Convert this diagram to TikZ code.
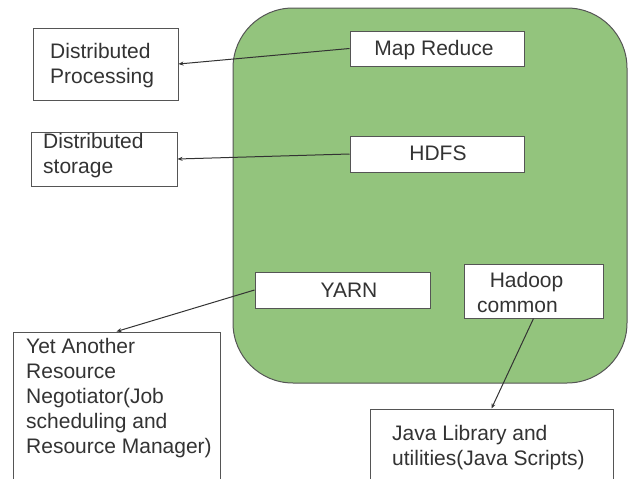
\documentclass[tikz,border=0pt]{standalone}
\usepackage{fontspec}
\setmainfont{Liberation Sans}
\usetikzlibrary{arrows.meta}
\definecolor{hgreen}{HTML}{93C47D}
\definecolor{edgegray}{HTML}{555555}
\definecolor{txtgray}{HTML}{333333}
\tikzset{
  box/.style={draw=edgegray, line width=1pt, fill=white, rectangle, inner sep=0pt},
  txt/.style={inner sep=0pt, align=left, text=txtgray, font=\fontsize{21}{25}\selectfont},
  conn/.style={draw=black!80, line width=1pt, -{Stealth[length=5pt,width=4pt]}}
}
\begin{document}
\begin{tikzpicture}[x=1pt,y=-1pt]
\useasboundingbox (0,0) rectangle (630,479);
\clip (0,0) rectangle (630,479);
% container
\draw[draw=edgegray, line width=1pt, fill=hgreen, rounded corners=60pt] (233,8) rectangle (627,383);
% inner boxes
\node[box, minimum width=174, minimum height=35] (mr) at (437,48.5) {};
\node[txt, anchor=center] (mrt) at (434,50) {Map Reduce};
\node[box, minimum width=174, minimum height=36] (hdfs) at (437,154) {};
\node[txt, anchor=center] (hdfst) at (438,153) {HDFS};
\node[box, minimum width=175, minimum height=36] (yarn) at (342.5,290) {};
\node[txt, anchor=center] (yarnt) at (349,290) {YARN};
\node[box, minimum width=139, minimum height=54] (hc) at (533.5,291) {};
\node[txt, anchor=west] (hct) at (477,292.5) {\hspace{0.6em}Hadoop\\common};
% outer boxes
\node[box, minimum width=145, minimum height=72] (dp) at (105.5,64) {};
\node[txt, anchor=west] (dpt) at (50,65.5) {Distributed\\Processing};
\node[box, minimum width=146, minimum height=54] (ds) at (104,159) {};
\node[txt, anchor=west] (dst) at (43,155.5) {Distributed\\storage};
\node[box, minimum width=207, minimum height=168] (yd) at (116.5,416) {};
\node[txt, anchor=west] (ydt) at (26,398.5) {Yet Another\\Resource\\Negotiator(Job\\scheduling and\\Resource Manager)};
\node[box, minimum width=243, minimum height=100] (jv) at (491.5,459) {};
\node[txt, anchor=west] (jvt) at (392,447.5) {Java Library and\\utilities(Java Scripts)};
% connectors
\draw[conn] (mr.west) -- (dp.east);
\draw[conn] (hdfs.west) -- (ds.east);
\draw[conn] (yarn.west) -- (yd.north);
\draw[conn] (hc.south) -- (jv.north);
\end{tikzpicture}
\end{document}
